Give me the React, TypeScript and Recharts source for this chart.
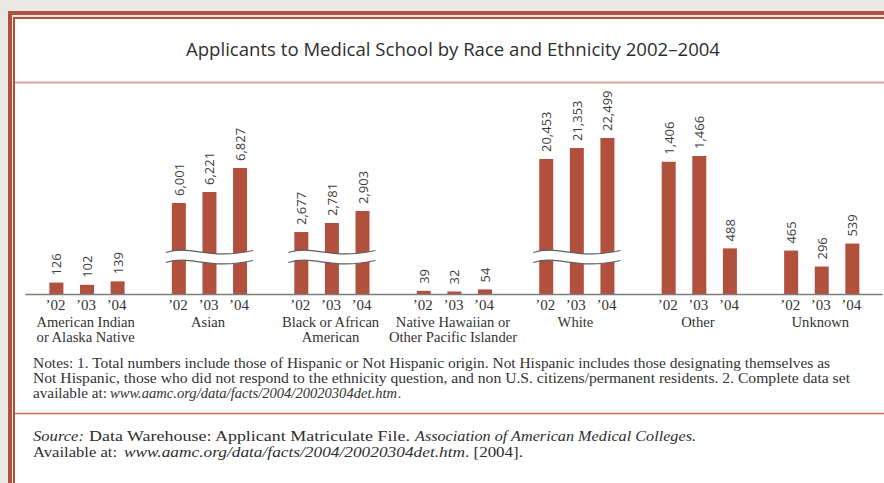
import { BarChart, Bar, XAxis, YAxis, LabelList } from 'recharts'

// applicants per group, one array per year
const categories = [
    'American Indian\nor Alaska Native',
    'Asian',
    'Black or African\nAmerican',
    'Native Hawaiian or\nOther Pacific Islander',
    'White',
    'Other',
    'Unknown',
]
const years = ['’02', '’03', '’04']
const applicants2002 = [126, 6001, 2677, 39, 20453, 1406, 465]
const applicants2003 = [102, 6221, 2781, 32, 21353, 1466, 296]
const applicants2004 = [139, 6827, 2903, 54, 22499, 488, 539]

// groups drawn on a broken axis: the height the bar is drawn at, null = true scale
const shown2002 = [null, 968, 661, null, 1434, null, null]
const shown2003 = [null, 1085, 757, null, 1550, null, null]
const shown2004 = [null, 1339, 884, null, 1656, null, null]

const URL_TEXT = 'www.aamc.org/data/facts/2004/20020304det.htm'

const BRICK = '#b2503e'
const BAR_SIZE = 14
const BAR_GAP = 16.6
const SERIF = '"Liberation Serif", "Times New Roman", serif'
const SANS = '"Open Sans", "Noto Sans", sans-serif'

const data = categories.map((cat, i) => ({
    cat,
    v02: applicants2002[i],
    v03: applicants2003[i],
    v04: applicants2004[i],
    h02: shown2002[i] ?? applicants2002[i],
    h03: shown2003[i] ?? applicants2003[i],
    h04: shown2004[i] ?? applicants2004[i],
    broken: shown2002[i] !== null,
}))

const wave = (x0: number, x1: number, c: number) => {
    const w = x1 - x0
    return `M ${x0} ${c} C ${x0 + w * 0.3} ${c - 8} ${x0 + w * 0.48} ${c + 8} ${x1} ${c - 2}`
}

// last bar of a group also draws the axis-break band across the whole group
const BarWithBreak = (props: any) => {
    const { x, y, width, height, fill, payload } = props
    const rect = <rect x={x} y={y} width={width} height={height} fill={fill} />
    if (!payload || !payload.broken) return rect
    const step = BAR_SIZE + BAR_GAP
    const x0 = x - 2 * step - 6
    const x1 = x + width + 6
    const c = y + height - 37
    const top = wave(x0, x1, c - 5)
    const bottom = wave(x0, x1, c + 5)
    return (
        <g>
            {rect}
            <path d={`${top} L ${x1} ${c + 3} C ${x0 + (x1 - x0) * 0.48} ${c + 13} ${x0 + (x1 - x0) * 0.3} ${c - 3} ${x0} ${c + 5} Z`} fill="#fff" />
            <path d={top} fill="none" stroke="#5e5e5e" strokeWidth={1.2} />
            <path d={bottom} fill="none" stroke="#5e5e5e" strokeWidth={1.2} />
        </g>
    )
}

const renderValue = (p: any) => {
    const cx = Number(p.x) + Number(p.width) / 2
    const top = Number(p.y) - 7
    return (
        <text
            x={cx}
            y={top}
            transform={`rotate(-90 ${cx} ${top})`}
            textAnchor="start"
            dominantBaseline="central"
            fontFamily={SANS}
            fontSize={13}
            fill="#3d3d3d"
        >
            {Number(p.value).toLocaleString('en-US')}
        </text>
    )
}

const GroupTick = (props: any) => {
    const { x, y, payload } = props
    const step = BAR_SIZE + BAR_GAP
    const lines = String(payload.value).split('\n')
    return (
        <g>
            {years.map((yr, k) => (
                <text key={yr} x={x - 0.6 + (k - 1) * step} y={y + 15.5} textAnchor="middle" fontFamily={SERIF} fontSize={15} fill="#333">
                    {yr}
                </text>
            ))}
            {lines.map((ln, k) => (
                <text key={ln} x={x - 1} y={y + 32 + k * 15.5} textAnchor="middle" fontFamily={SERIF} fontSize={14.6} fill="#333">
                    {ln}
                </text>
            ))}
        </g>
    )
}

// one run of text squeezed to the width it takes in the reference
const Run = ({ x, y, w, italic, children }: any) => (
    <text x={x} y={y} textLength={w} lengthAdjust="spacingAndGlyphs" fontStyle={italic ? 'italic' : 'normal'}>
        {children}
    </text>
)

export default function App() {
    return (
        <div style={{ position: 'absolute', left: 0, top: 0, width: 884, height: 483, background: '#e9e8e6', overflow: 'hidden' }}>
            {/* double brick frame */}
            <div style={{ position: 'absolute', left: 8, top: 11, width: 876, height: 472, background: '#ebe7e6', borderLeft: `4px solid ${BRICK}`, borderTop: `4px solid ${BRICK}`, boxSizing: 'border-box' }} />
            <div style={{ position: 'absolute', left: 13, top: 17, width: 871, height: 466, background: '#fff', borderLeft: `2px solid ${BRICK}`, borderTop: `2px solid ${BRICK}`, boxSizing: 'border-box' }} />

            <div style={{ position: 'absolute', left: 0, top: 84 }}>
                <BarChart width={884} height={276} data={data} margin={{ top: 21.5, right: 1.4, left: 25.4, bottom: 0 }} barSize={BAR_SIZE} barGap={BAR_GAP}>
                    <YAxis hide domain={[0, 2000]} />
                    <XAxis
                        dataKey="cat"
                        interval={0}
                        tickLine={false}
                        tickSize={0}
                        tickMargin={0}
                        height={65.5}
                        axisLine={{ stroke: '#7d7d7d', strokeWidth: 1.5 }}
                        tick={<GroupTick />}
                    />
                    <Bar dataKey="h02" fill={BRICK} isAnimationActive={false}>
                        <LabelList dataKey="v02" content={renderValue} />
                    </Bar>
                    <Bar dataKey="h03" fill={BRICK} isAnimationActive={false}>
                        <LabelList dataKey="v03" content={renderValue} />
                    </Bar>
                    <Bar dataKey="h04" fill={BRICK} isAnimationActive={false} shape={BarWithBreak}>
                        <LabelList dataKey="v04" content={renderValue} />
                    </Bar>
                </BarChart>
            </div>

            <svg width={884} height={483} style={{ position: 'absolute', left: 0, top: 0, pointerEvents: 'none' }}>
                <text x={453} y={56} textAnchor="middle" fontFamily={SANS} fontSize={17.5} fill="#2e2e2e" textLength={534} lengthAdjust="spacingAndGlyphs">
                    Applicants to Medical School by Race and Ethnicity 2002–2004
                </text>
                <line x1={15} x2={884} y1={82.5} y2={82.5} stroke="#dca59c" strokeWidth={2} />

                <g fontFamily={SERIF} fontSize={14.2} fill="#333">
                    <Run x={33} y={367.5} w={797}>
                        Notes: 1. Total numbers include those of Hispanic or Not Hispanic origin. Not Hispanic includes those designating themselves as
                    </Run>
                    <Run x={33} y={382.5} w={817}>
                        Not Hispanic, those who did not respond to the ethnicity question, and non U.S. citizens/permanent residents.  2. Complete data set
                    </Run>
                    <Run x={33} y={397.5} w={74}>available at:</Run>
                    <Run x={110} y={397.5} w={287} italic>{URL_TEXT}</Run>
                    <Run x={398} y={397.5} w={3}>.</Run>
                </g>
                <line x1={15} x2={884} y1={413.5} y2={413.5} stroke="#c9685b" strokeWidth={1.3} />

                <g fontFamily={SERIF} fontSize={14.8} fill="#2e2e2e">
                    <Run x={33} y={441} w={51} italic>Source:</Run>
                    <Run x={89} y={441} w={321}>Data Warehouse: Applicant Matriculate File.</Run>
                    <Run x={415} y={441} w={281} italic>Association of American Medical Colleges.</Run>
                    <Run x={33} y={457} w={84}>Available at:</Run>
                    <Run x={124} y={457} w={341} italic>{URL_TEXT}</Run>
                    <Run x={465} y={457} w={58}>. [2004].</Run>
                </g>
            </svg>
        </div>
    )
}
